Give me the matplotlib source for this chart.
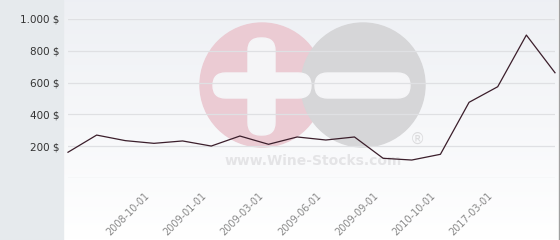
import numpy as np
import matplotlib
matplotlib.use("Agg")
import matplotlib.pyplot as plt
import matplotlib.transforms as mtransforms
from matplotlib.patches import Circle, FancyBboxPatch, Rectangle

# price history, one point per listing
prices = [162, 270, 235, 218, 233, 201, 264, 212, 258, 239, 258, 124, 113, 149, 476, 574, 899, 662]
tick_idx = [3, 5, 7, 9, 11, 13, 15]
tick_labels = ['2008-10-01', '2009-01-01', '2009-03-01', '2009-06-01',
               '2009-09-01', '2010-10-01', '2017-03-01']
y_ticks = [200, 400, 600, 800, 1000]
y_labels = ['200 $', '400 $', '600 $', '800 $', '1.000 $']

W, H = 560, 240
fig = plt.figure(figsize=(W / 100, H / 100), dpi=100)
fig.patch.set_facecolor('white')

# background layer in pixel coordinates
bg = fig.add_axes([0, 0, 1, 1], zorder=0)
bg.set_xlim(0, W)
bg.set_ylim(H, 0)
bg.axis('off')

grad = np.linspace(0, 1, 100).reshape(-1, 1)
top = np.array([0.933, 0.941, 0.957])
bot = np.array([1.0, 1.0, 1.0])
img = top + (bot - top) * grad[..., None]
bg.imshow(img, extent=[63, 558, 240, 0], aspect='auto', zorder=0)
bg.add_patch(Rectangle((0, 0), 63, H, color='#e6eaed', zorder=1))
bg.plot([559, 559], [0, H], color='#a0a0a0', lw=1, zorder=1)

# watermark
bg.add_patch(Circle((262, 85), 62, color='#ebcbd3', zorder=2))
bg.add_patch(Circle((363, 85), 62, color='#d6d6d8', zorder=3))
bar = dict(boxstyle='round,pad=0,rounding_size=12.5', color='#f5f5f7', zorder=4)
bg.add_patch(FancyBboxPatch((248, 38), 27, 97, **bar))
bg.add_patch(FancyBboxPatch((213, 73), 98, 25, **bar))
bg.add_patch(FancyBboxPatch((315, 73), 95, 25, **bar))
bg.text(313, 161, 'www.Wine-Stocks.com', ha='center', va='center', fontsize=10,
        fontweight='bold', color='#e4e4e6', zorder=4)
bg.text(418, 139, '®', ha='center', va='center', fontsize=11,
        color='#dcdcde', zorder=4)

# chart
ax = fig.add_axes([68 / W, (H - 178) / H, (555 - 68) / W, (178 - 19) / H], zorder=1)
ax.patch.set_alpha(0)
ax.plot(range(len(prices)), prices, color='#3b1e2b', lw=0.9, clip_on=False)
ax.set_xlim(0, len(prices) - 1)
ax.set_ylim(0, 1000)
for s in ax.spines.values():
    s.set_visible(False)

ax.set_yticks([0] + y_ticks)
ax.set_yticklabels([''] + y_labels, fontsize=7.5, color='#333333')
ax.yaxis.grid(True, color='#dfe0e3', lw=0.9)
ax.set_axisbelow(True)
ax.tick_params(axis='y', length=0, pad=6)

ax.set_xticks(tick_idx)
ax.set_xticklabels(tick_labels, rotation=45, ha='right', va='top',
                   rotation_mode='anchor', fontsize=7, color='#888888')
ax.tick_params(axis='x', length=0, pad=9)
shift = mtransforms.ScaledTranslation(-10 / 100, 0, fig.dpi_scale_trans)
for lab in ax.get_xticklabels():
    lab.set_transform(lab.get_transform() + shift)

fig.savefig('out.png', dpi=100)
